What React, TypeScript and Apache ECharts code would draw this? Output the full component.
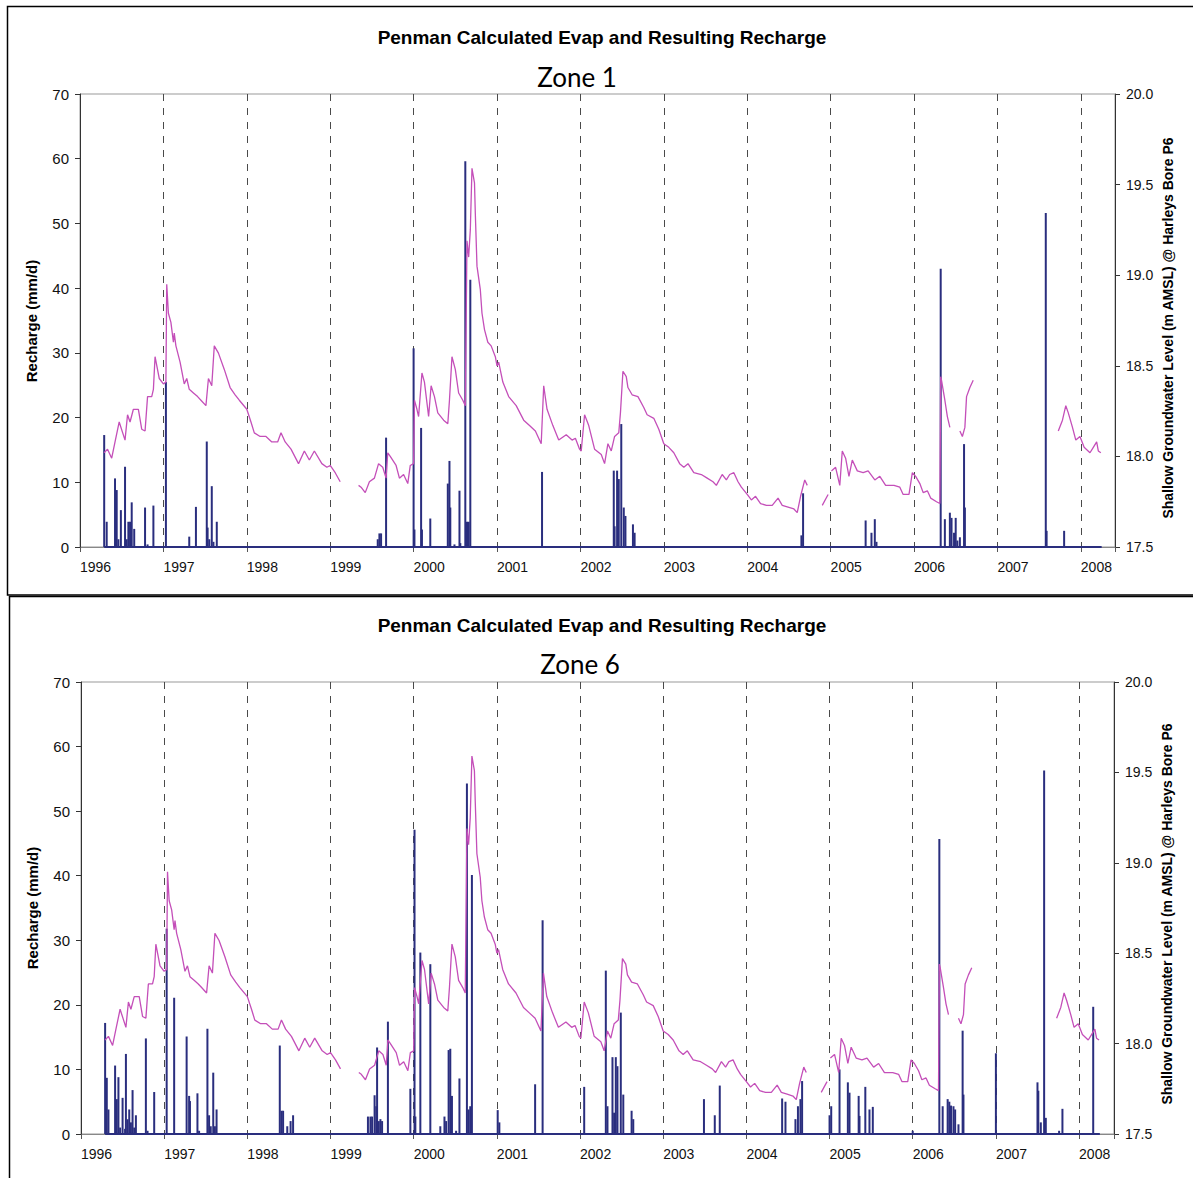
import React, { useEffect, useRef } from "react";
import * as echarts from "echarts";

// ---------- DATA (decimal year, value) ----------
const yearLabels = ["1996","1997","1998","1999","2000","2001","2002","2003","2004","2005","2006","2007","2008"];
const rechargeTicks = [0, 10, 20, 30, 40, 50, 60, 70];
const levelTicks = [17.5, 18.0, 18.5, 19.0, 19.5, 20.0];

// Shallow groundwater level (m AMSL) @ Harleys Bore P6 — null marks a gap in the record
const gwLevel: [number, number | null][] = [
  [1996.29,18.02],[1996.33,18.04],[1996.38,17.99],[1996.42,18.08],[1996.47,18.19],[1996.54,18.09],[1996.57,18.23],
  [1996.60,18.19],[1996.64,18.26],[1996.70,18.26],[1996.74,18.15],[1996.78,18.14],[1996.81,18.33],[1996.86,18.33],
  [1996.88,18.37],[1996.90,18.55],[1996.95,18.43],[1997.00,18.40],[1997.03,18.41],[1997.04,18.95],[1997.06,18.79],
  [1997.09,18.74],[1997.12,18.63],[1997.13,18.68],[1997.15,18.61],[1997.20,18.52],[1997.25,18.40],[1997.28,18.43],
  [1997.31,18.37],[1997.36,18.35],[1997.41,18.33],[1997.45,18.31],[1997.51,18.28],[1997.54,18.43],[1997.58,18.39],
  [1997.61,18.61],[1997.66,18.57],[1997.73,18.48],[1997.80,18.38],[1997.86,18.34],[1997.91,18.31],[1998.00,18.26],
  [1998.05,18.19],[1998.09,18.13],[1998.16,18.11],[1998.23,18.11],[1998.30,18.08],[1998.37,18.08],[1998.41,18.13],
  [1998.46,18.08],[1998.53,18.04],[1998.62,17.96],[1998.69,18.03],[1998.75,17.98],[1998.81,18.03],[1998.90,17.96],
  [1998.96,17.94],[1999.00,17.95],[1999.06,17.91],[1999.12,17.86],
  [1999.23,null],
  [1999.34,17.84],[1999.37,17.83],[1999.42,17.80],[1999.47,17.86],[1999.53,17.88],[1999.58,17.96],[1999.63,17.94],
  [1999.67,17.88],[1999.69,18.02],[1999.72,18.00],[1999.79,17.95],[1999.83,17.88],[1999.88,17.90],[1999.93,17.85],
  [1999.96,17.95],[2000.00,17.96],[2000.01,18.31],[2000.04,18.26],[2000.06,18.22],[2000.10,18.46],[2000.13,18.41],
  [2000.18,18.22],[2000.21,18.39],[2000.25,18.33],[2000.29,18.24],[2000.36,18.20],[2000.41,18.18],[2000.43,18.31],
  [2000.46,18.55],[2000.50,18.48],[2000.54,18.35],[2000.59,18.31],[2000.62,18.28],[2000.64,19.19],[2000.66,19.10],
  [2000.68,19.25],[2000.70,19.59],[2000.73,19.51],[2000.74,19.34],[2000.76,19.05],[2000.80,18.92],[2000.82,18.79],
  [2000.85,18.70],[2000.89,18.63],[2000.93,18.61],[2000.98,18.55],[2001.00,18.50],[2001.02,18.52],[2001.07,18.41],
  [2001.14,18.33],[2001.23,18.28],[2001.32,18.20],[2001.39,18.17],[2001.46,18.14],[2001.53,18.07],[2001.56,18.39],
  [2001.60,18.26],[2001.67,18.17],[2001.74,18.09],[2001.83,18.12],[2001.90,18.09],[2001.94,18.10],[2001.99,18.04],
  [2002.01,18.03],[2002.05,18.23],[2002.10,18.17],[2002.17,18.04],[2002.25,18.01],[2002.29,17.96],[2002.33,18.07],
  [2002.37,18.03],[2002.41,18.11],[2002.46,18.13],[2002.48,18.24],[2002.51,18.47],[2002.55,18.44],[2002.57,18.38],
  [2002.62,18.34],[2002.69,18.33],[2002.76,18.27],[2002.80,18.23],[2002.88,18.21],[2002.94,18.15],[2003.00,18.07],
  [2003.06,18.05],[2003.12,18.02],[2003.19,17.96],[2003.24,17.94],[2003.29,17.96],[2003.36,17.91],[2003.45,17.90],
  [2003.52,17.88],[2003.59,17.86],[2003.63,17.84],[2003.70,17.90],[2003.75,17.87],[2003.79,17.90],[2003.84,17.91],
  [2003.89,17.86],[2003.93,17.83],[2004.00,17.79],[2004.05,17.76],[2004.10,17.78],[2004.16,17.74],[2004.23,17.73],
  [2004.30,17.73],[2004.37,17.77],[2004.42,17.73],[2004.49,17.72],[2004.56,17.71],[2004.60,17.69],[2004.64,17.78],
  [2004.69,17.87],[2004.72,17.84],
  [2004.81,null],
  [2004.90,17.73],[2004.97,17.79],
  [2004.99,null],
  [2005.01,17.92],[2005.06,17.94],[2005.11,17.84],[2005.14,18.03],[2005.18,17.99],[2005.22,17.89],[2005.26,17.98],
  [2005.32,17.92],[2005.39,17.91],[2005.45,17.92],[2005.53,17.87],[2005.59,17.89],[2005.66,17.84],[2005.76,17.84],
  [2005.83,17.83],[2005.87,17.79],[2005.94,17.79],[2005.98,17.91],[2006.02,17.89],[2006.07,17.85],[2006.11,17.80],
  [2006.16,17.81],[2006.20,17.77],[2006.27,17.75],[2006.31,17.74],[2006.32,18.44],[2006.33,18.42],[2006.37,18.31],
  [2006.40,18.22],[2006.43,18.16],
  [2006.49,null],
  [2006.55,18.14],[2006.58,18.11],[2006.61,18.16],[2006.63,18.33],[2006.67,18.38],[2006.71,18.42],
  [2007.20,null],
  [2007.73,18.14],[2007.78,18.20],[2007.82,18.28],[2007.85,18.24],[2007.90,18.16],[2007.94,18.09],[2007.99,18.11],
  [2008.04,18.05],[2008.11,18.02],[2008.15,18.05],[2008.19,18.08],[2008.21,18.03],[2008.24,18.02],
];

// Recharge (mm/d), Zone 1
const zone1Recharge: [number, number][] = [
  [1996.29,17.3],[1996.32,3.9],[1996.42,10.6],[1996.44,8.8],[1996.46,1.2],[1996.49,5.7],[1996.54,12.4],[1996.56,1.2],
  [1996.58,3.9],[1996.60,3.9],[1996.62,6.9],[1996.65,2.8],[1996.78,6.1],[1996.81,0.4],[1996.88,6.4],[1997.03,25.5],
  [1997.31,1.6],[1997.39,6.2],[1997.52,16.3],[1997.53,3.0],[1997.55,1.2],[1997.58,9.4],[1997.60,0.8],[1997.64,3.9],
  [1999.57,1.2],[1999.59,2.1],[1999.61,2.1],[1999.67,16.9],
  [2000.00,30.7],[2000.01,2.7],[2000.09,18.4],[2000.10,2.7],[2000.20,4.4],[2000.41,9.8],[2000.43,13.3],[2000.44,6.1],
  [2000.49,0.4],[2000.55,8.7],[2000.56,0.6],[2000.62,59.6],[2000.64,3.9],[2000.66,3.9],[2000.68,41.3],
  [2001.54,11.6],
  [2002.40,11.8],[2002.41,3.2],[2002.44,11.8],[2002.46,10.5],[2002.49,19.0],[2002.52,6.1],[2002.54,4.8],[2002.63,3.5],
  [2002.65,2.2],
  [2004.65,1.8],[2004.67,8.3],
  [2005.42,4.1],[2005.49,2.2],[2005.53,4.3],[2005.55,0.8],
  [2006.32,43.0],[2006.37,4.3],[2006.43,5.3],[2006.45,4.5],[2006.48,2.2],[2006.50,4.5],[2006.52,1.0],[2006.55,1.5],
  [2006.60,15.9],[2006.61,6.1],
  [2007.58,51.6],[2007.59,2.5],[2007.80,2.5],
];

// Recharge (mm/d), Zone 6
const zone6Recharge: [number, number][] = [
  [1996.29,17.2],[1996.31,8.7],[1996.33,3.8],[1996.41,10.6],[1996.43,5.4],[1996.45,8.8],[1996.47,1.0],[1996.50,5.6],
  [1996.53,0.8],[1996.54,12.4],[1996.56,2.3],[1996.58,3.8],[1996.60,1.8],[1996.62,6.8],[1996.64,1.0],[1996.66,2.9],
  [1996.78,14.8],[1996.80,0.5],[1996.88,6.5],[1997.03,31.8],[1997.12,21.1],[1997.27,15.1],[1997.30,5.9],[1997.31,5.1],
  [1997.40,6.3],[1997.42,0.5],[1997.52,16.3],[1997.54,2.9],[1997.56,1.2],[1997.59,9.5],[1997.61,1.2],[1997.63,3.8],
  [1998.39,13.7],[1998.41,3.6],[1998.43,3.6],[1998.48,1.2],[1998.52,2.0],[1998.55,2.9],
  [1999.45,2.7],[1999.48,2.7],[1999.50,2.7],[1999.53,6.0],[1999.55,4.3],[1999.56,13.4],[1999.58,2.0],[1999.60,2.3],
  [1999.62,2.0],[1999.69,17.4],[1999.96,7.0],[2000.01,47.1],[2000.02,2.7],[2000.08,28.1],[2000.20,26.3],[2000.32,1.2],
  [2000.37,2.7],[2000.39,2.0],[2000.42,13.0],[2000.44,13.2],[2000.46,5.9],[2000.51,0.5],[2000.55,8.6],[2000.64,54.3],
  [2000.66,3.8],[2000.68,4.3],[2000.70,40.1],[2001.01,3.7],[2001.03,1.8],[2001.46,7.7],[2001.55,33.1],[2002.05,7.3],
  [2002.31,25.3],[2002.33,4.3],[2002.39,11.9],[2002.41,3.3],[2002.43,11.9],[2002.45,10.5],[2002.49,18.8],[2002.52,6.1],
  [2002.62,3.6],[2002.64,2.3],[2003.49,5.4],[2003.62,2.9],[2003.68,7.5],
  [2004.43,5.5],[2004.47,5.0],[2004.59,2.3],[2004.62,4.3],[2004.65,5.4],[2004.67,8.2],
  [2005.00,2.9],[2005.02,4.3],[2005.12,10.0],[2005.22,8.0],[2005.24,6.4],[2005.35,5.9],[2005.36,2.8],[2005.43,7.3],
  [2005.48,3.8],[2005.52,4.2],[2006.00,0.5],[2006.32,45.7],[2006.36,4.3],[2006.42,5.4],[2006.44,5.0],[2006.46,4.4],
  [2006.49,4.3],[2006.51,3.8],[2006.55,1.5],[2006.60,16.0],[2006.61,6.1],[2007.00,12.5],[2007.50,8.0],[2007.51,6.7],
  [2007.54,1.8],[2007.58,56.3],[2007.60,2.5],[2007.76,0.5],[2007.80,3.9],[2008.17,19.7],
];

// period of the recharge record (zero between events)
const rechargeSpan: [number, number] = [1996.29, 2008.25];

const panelTitles = ["Penman Calculated Evap and Resulting Recharge", "Penman Calculated Evap and Resulting Recharge"];
const zoneNames = ["Zone 1", "Zone 6"];
const leftAxisName = "Recharge (mm/d)";
const rightAxisName = "Shallow Groundwater Level (m AMSL) @ Harleys Bore P6";

// ---------- STYLE ----------
const NAVY = "#2A2E7E";
const PINK = "#C44FB9";
const ARIAL = '"Liberation Sans", Arial, sans-serif';

const panels = [
  { left: 80, top: 94, width: 1035, height: 453, xMax: 2008.41, titleY: 37, zoneX: 577, zoneY: 77, leftNameX: 31, leftNameY: 321, rightNameX: 1168, rightNameY: 328, recharge: zone1Recharge },
  { left: 81, top: 682, width: 1033, height: 452, xMax: 2008.42, titleY: 625, zoneX: 580, zoneY: 664, leftNameX: 32, leftNameY: 908, rightNameX: 1167, rightNameY: 914, recharge: zone6Recharge },
];

const axisLabelStyle = { fontFamily: ARIAL, fontSize: 14, color: "#111" };

function buildOption() {
  const grid: any[] = [];
  const xAxis: any[] = [];
  const yAxis: any[] = [];
  const series: any[] = [];
  const graphic: any[] = [];

  panels.forEach((p, i) => {
    grid.push({ left: p.left, top: p.top, width: p.width, height: p.height, show: true, borderColor: "#999", borderWidth: 1, backgroundColor: "transparent", containLabel: false });
    xAxis.push({
      type: "value", gridIndex: i, min: 1996, max: p.xMax, interval: 1,
      axisLine: { show: true, onZero: false, lineStyle: { color: "#888", width: 1 } },
      axisTick: { show: true, length: 5, lineStyle: { color: "#555" } },
      axisLabel: {
        ...axisLabelStyle, margin: 13, align: "left",
        formatter: (v: number) => {
          const r = Math.round(v);
          if (Math.abs(v - r) > 1e-6) return "";
          const idx = r - 1996;
          return yearLabels[idx] ?? "";
        },
      },
      splitLine: { show: true, lineStyle: { color: "#4a4a4a", type: [7, 7], width: 1 } },
    });
    yAxis.push({
      type: "value", gridIndex: i, min: rechargeTicks[0], max: rechargeTicks[rechargeTicks.length - 1], interval: 10, position: "left",
      axisLine: { show: true, lineStyle: { color: "#333", width: 1 } },
      axisTick: { show: true, length: 5, lineStyle: { color: "#333" } },
      axisLabel: { ...axisLabelStyle, fontSize: 15, margin: 11 },
      splitLine: { show: false },
    });
    yAxis.push({
      type: "value", gridIndex: i, min: levelTicks[0], max: levelTicks[levelTicks.length - 1], interval: 0.5, position: "right",
      axisLine: { show: true, lineStyle: { color: "#333", width: 1 } },
      axisTick: { show: true, length: 5, lineStyle: { color: "#333" } },
      axisLabel: { ...axisLabelStyle, margin: 11, formatter: (v: number) => v.toFixed(1) },
      splitLine: { show: false },
    });

    series.push({
      type: "line", name: "baseline" + i, xAxisIndex: i, yAxisIndex: i * 2,
      data: [[rechargeSpan[0], 0], [rechargeSpan[1], 0]],
      symbol: "none", lineStyle: { color: NAVY, width: 2 }, z: 3,
    });
    series.push({
      type: "bar", name: "Recharge " + zoneNames[i], xAxisIndex: i, yAxisIndex: i * 2,
      data: p.recharge, barWidth: 2, itemStyle: { color: NAVY }, z: 4,
    });
    series.push({
      type: "line", name: "Groundwater level", xAxisIndex: i, yAxisIndex: i * 2 + 1,
      data: gwLevel, symbol: "none", showSymbol: false, connectNulls: false,
      lineStyle: { color: PINK, width: 1.3 }, z: 5,
    });

    graphic.push({
      type: "text", x: 602, y: p.titleY, z: 10,
      style: { text: panelTitles[i], font: `bold 19px ${ARIAL}`, fill: "#000", align: "center", verticalAlign: "middle", textAlign: "center", textVerticalAlign: "middle" },
    });
    graphic.push({
      type: "text", x: p.zoneX, y: p.zoneY, z: 10,
      style: { text: zoneNames[i], font: `26px Lato, "Open Sans", sans-serif`, fill: "#000", align: "center", verticalAlign: "middle", textAlign: "center", textVerticalAlign: "middle" },
    });
    graphic.push({
      type: "text", x: p.leftNameX, y: p.leftNameY, rotation: Math.PI / 2, z: 10,
      style: { text: leftAxisName, font: `bold 15px ${ARIAL}`, fill: "#000", align: "center", verticalAlign: "middle", textAlign: "center", textVerticalAlign: "middle" },
    });
    graphic.push({
      type: "text", x: p.rightNameX, y: p.rightNameY, rotation: Math.PI / 2, z: 10,
      style: { text: rightAxisName, font: `bold 14px ${ARIAL}`, fill: "#000", align: "center", verticalAlign: "middle", textAlign: "center", textVerticalAlign: "middle" },
    });
  });

  // chart-area frames
  graphic.push({ type: "rect", shape: { x: 7.5, y: 6.5, width: 1200, height: 588.5 }, style: { fill: "none", stroke: "#000", lineWidth: 1.5 }, z: 1 });
  graphic.push({ type: "rect", shape: { x: 9.5, y: 596.5, width: 1200, height: 600 }, style: { fill: "none", stroke: "#000", lineWidth: 1.5 }, z: 1 });

  return { animation: false, backgroundColor: "#fff", grid, xAxis, yAxis, series, graphic };
}

export default function App() {
  const ref = useRef<HTMLDivElement>(null);
  useEffect(() => {
    document.body.style.margin = "0";
    const chart = echarts.init(ref.current!, undefined, { renderer: "svg" });
    chart.setOption(buildOption() as any);
    return () => chart.dispose();
  }, []);
  return <div ref={ref} style={{ width: 1193, height: 1178 }} />;
}
